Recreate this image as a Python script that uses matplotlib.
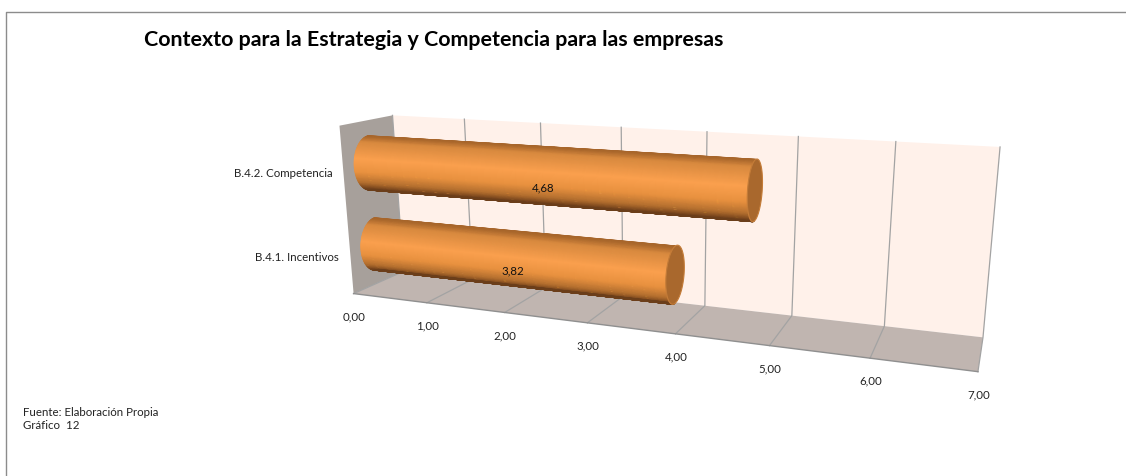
import numpy as np
import matplotlib
matplotlib.use("Agg")
import matplotlib.pyplot as plt
from matplotlib.colors import LinearSegmentedColormap

# chart data
categories = ["B.4.1. Incentivos", "B.4.2. Competencia"]
values = [3.82, 4.68]
axis_ticks = [0, 1, 2, 3, 4, 5, 6, 7]
title = "Contexto para la Estrategia y Competencia para las empresas"
notes = "Fuente: Elaboración Propia\nGráfico  12"

plt.rcParams["font.family"] = ["Lato", "DejaVu Sans"]

# box corners (value, depth, height) -> where they land in the picture
box_world = [(0, 0, 0), (7, 0, 0), (0, 1, 0), (7, 1, 0), (0, 1, 1), (7, 1, 1), (0, 0, 1)]
box_px = [(354, 294), (978, 373), (403, 273), (983, 338), (393, 116), (1000, 148), (339, 127)]


def fit_camera(world, px):
    rows = []
    for (a, b, c), (x, y) in zip(world, px):
        rows.append([a, b, c, 1, 0, 0, 0, 0, -x * a, -x * b, -x * c, -x])
        rows.append([0, 0, 0, 0, a, b, c, 1, -y * a, -y * b, -y * c, -y])
    return np.linalg.svd(np.array(rows, dtype=float))[2][-1].reshape(3, 4)


cam = fit_camera(box_world, box_px)


def project(v, d, h):
    v, d, h = np.broadcast_arrays(v, d, h)
    p = np.stack([v, d, h, np.ones_like(v)], axis=-1).astype(float) @ cam.T
    return p[..., 0] / p[..., 2], p[..., 1] / p[..., 2]


def face(ax, corners, color, z):
    xs, ys = zip(*[project(*c) for c in corners])
    ax.fill(xs, ys, color=color, lw=0, zorder=z)


fig = plt.figure(figsize=(11.26, 4.77), dpi=100)
ax = fig.add_axes([0, 0, 1, 1])
ax.set_xlim(0, 1126)
ax.set_ylim(477, 0)
ax.axis("off")

# page frame
ax.plot([6, 6, 1126], [477, 12.5, 12.5], color="#8c8c8c", lw=1)

ax.text(144, 40, title, fontsize=15.37, fontweight="bold", color="black", va="center", ha="left")
ax.text(23, 419, notes, fontsize=8.3, color="#222222", va="center", ha="left", linespacing=1.13)

# 3d box
vmax = axis_ticks[-1]
face(ax, [(0, 1, 0), (vmax, 1, 0), (vmax, 1, 1), (0, 1, 1)], "#fff1ea", 1)
face(ax, [(0, 0, 0), (vmax, 0, 0), (vmax, 1, 0), (0, 1, 0)], "#c0b5b0", 1)
face(ax, [(0, 0, 0), (0, 1, 0), (0, 1, 1), (0, 0, 1)], "#a7a09b", 1)

for t in axis_ticks:
    xs, ys = project(t, np.array([0, 1, 1]), np.array([0, 0, 1]))
    ax.plot(xs, ys, color="#a3a3a3", lw=0.9, zorder=2)
    x0, y0 = project(t, 0, 0)
    ax.text(x0 + 0.5, y0 + 22, f"{t:.2f}".replace(".", ","), fontsize=8.3, color="#222222", ha="center", va="center")
xs, ys = project(np.array([0, vmax]), 0, 0)
ax.plot(xs, ys, color="#8f8f8f", lw=1, zorder=2)

# cylinders, colours run from top edge to bottom edge of the tube
bar_cmap = LinearSegmentedColormap.from_list(
    "bar",
    [(0, "#a8662b"), (0.08, "#d98a3f"), (0.35, "#fba04e"), (0.6, "#e8913f"),
     (0.8, "#b5702f"), (0.94, "#74431c"), (1, "#6b3e1a")],
)
depth_r = 0.30
height_r = 0.163
for i, (name, val) in enumerate(zip(categories, values)):
    h = 0.245 + 0.5 * i
    ang = np.linspace(np.pi / 2, 3 * np.pi / 2, 91)
    along = np.linspace(0, val, 30)
    vv, aa = np.meshgrid(along, ang)
    X, Y = project(vv, 0.5 + depth_r * np.cos(aa), h + height_r * np.sin(aa))
    shade = (1 - np.sin(aa)) / 2
    ax.pcolormesh(X, Y, shade, cmap=bar_cmap, shading="gouraud", zorder=3, antialiased=True)

    ring = np.linspace(0, 2 * np.pi, 80)
    cx, cy = project(val, 0.5 + depth_r * np.cos(ring), h + height_r * np.sin(ring))
    ax.fill(cx, cy, facecolor="#a9682d", edgecolor="#c47c38", lw=0.8, zorder=4)

    lx, ly = project(val * 0.485, 0.5, h)
    ax.text(lx, ly + 12, f"{val:.2f}".replace(".", ","), fontsize=8.3, color="#111111", ha="center", va="center", zorder=5)
    nx, ny = project(0, 0, h)
    ax.text(nx - 11, ny + 3, name, fontsize=8.3, color="#222222", ha="right", va="center")

fig.savefig("out.png", dpi=100)
